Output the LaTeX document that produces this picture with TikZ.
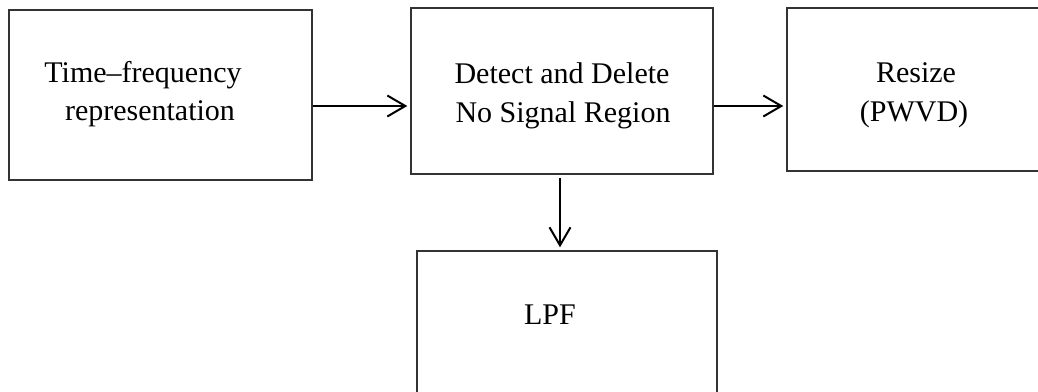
\documentclass[tikz,border=0pt]{standalone}
\usepackage{fontspec}
\setmainfont{Liberation Serif}
\usetikzlibrary{arrows.meta}
\begin{document}
\begin{tikzpicture}[x=1pt,y=-1pt,
  blockbox/.style={draw=black!80,line width=1.4pt,minimum width=#1,inner sep=0pt},
  lbl/.style={font=\fontsize{30}{39}\selectfont,anchor=base,inner sep=0pt},
  arr/.style={line width=2pt,-{Straight Barb[length=18pt,width=21pt,line width=2pt]},shorten >=3pt}]
\useasboundingbox (0,0) rectangle (1038,391);
\clip (0,0) rectangle (1038,391);
% blocks
\node[blockbox=303pt,minimum height=170pt] (tfr) at (160.5,95) {};
\node[blockbox=302pt,minimum height=166pt] (det) at (562,91) {};
\node[blockbox=263pt,minimum height=163pt] (rsz) at (918.5,89.5) {};
\node[blockbox=300pt,minimum height=149pt] (lpf) at (567,325.5) {};
% labels
\node[lbl] (tfra) at (143,82) {Time–frequency};
\node[lbl] (tfrb) at (150,120) {representation};
\node[lbl] (deta) at (562,83) {Detect and Delete};
\node[lbl] (detb) at (563,122) {No Signal Region};
\node[lbl] (rsza) at (916,82) {Resize};
\node[lbl] (rszb) at (914,121) {(PWVD)};
\node[lbl] (lpfa) at (550,324) {LPF};
% connectors
\coordinate (row) at (0,106);
\coordinate (col) at (560,0);
\draw[arr] (tfr.east |- row) -- (det.west |- row);
\draw[arr] (det.east |- row) -- (rsz.west |- row);
\draw[arr,shorten <=3pt] (det.south -| col) -- (lpf.north -| col);
\end{tikzpicture}
\end{document}
